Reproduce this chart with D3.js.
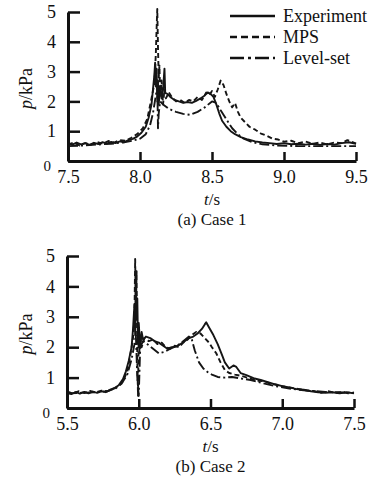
<!DOCTYPE html>
<html>
<head>
<meta charset="utf-8">
<script src="https://cdn.jsdelivr.net/npm/d3@7"></script>
<style>
  body { margin: 0; background: #fff; }
  svg text { font-family: "Liberation Serif", "DejaVu Serif", serif; fill: #111; }
</style>
</head>
<body>
<script>
// series names and ticks
const seriesNames = ["Experiment", "MPS", "Level-set"];
const yTicks = [0, 1, 2, 3, 4, 5];
const case1Ticks = [7.5, 8.0, 8.5, 9.0, 9.5];
const case2Ticks = [5.5, 6.0, 6.5, 7.0, 7.5];

// Case 1 : [t (s), p (kPa)]
const case1Exp = [[7.50,0.60],[7.53,0.55],[7.56,0.62],[7.59,0.56],[7.62,0.60],[7.65,0.54],[7.68,0.61],[7.71,0.57],[7.74,0.63],[7.77,0.58],[7.80,0.64],[7.83,0.60],[7.86,0.66],[7.89,0.63],[7.92,0.70],[7.95,0.74],[7.98,0.82],[8.01,0.95],[8.04,1.15],[8.06,1.45],[8.08,1.90],[8.09,2.40],[8.10,2.90],[8.105,3.30],[8.11,2.50],[8.115,3.10],[8.12,2.00],[8.125,2.70],[8.13,1.90],[8.14,2.50],[8.15,2.10],[8.16,2.40],[8.17,3.10],[8.175,2.30],[8.19,2.25],[8.21,2.15],[8.24,2.05],[8.27,2.00],[8.30,1.95],[8.33,1.98],[8.36,1.95],[8.39,2.02],[8.42,2.10],[8.45,2.20],[8.47,2.30],[8.49,2.25],[8.51,2.15],[8.53,1.90],[8.55,1.60],[8.57,1.35],[8.60,1.15],[8.63,1.00],[8.66,0.90],[8.70,0.80],[8.75,0.72],[8.80,0.66],[8.85,0.62],[8.90,0.60],[8.95,0.57],[9.00,0.60],[9.05,0.56],[9.10,0.58],[9.15,0.55],[9.20,0.58],[9.25,0.54],[9.30,0.57],[9.35,0.55],[9.40,0.60],[9.45,0.63],[9.50,0.58]];
const case1Mps = [[7.50,0.55],[7.54,0.62],[7.58,0.52],[7.62,0.60],[7.66,0.55],[7.70,0.64],[7.74,0.58],[7.78,0.67],[7.82,0.62],[7.86,0.70],[7.90,0.68],[7.94,0.78],[7.98,0.90],[8.02,1.10],[8.05,1.40],[8.08,2.10],[8.10,2.60],[8.11,3.60],[8.115,4.40],[8.12,5.10],[8.125,3.80],[8.13,2.80],[8.135,3.20],[8.14,2.20],[8.15,2.70],[8.16,1.90],[8.17,2.40],[8.18,2.10],[8.20,2.30],[8.22,2.15],[8.25,2.00],[8.28,2.05],[8.31,1.95],[8.34,2.05],[8.37,2.00],[8.40,2.15],[8.43,2.05],[8.46,2.30],[8.48,2.20],[8.50,2.35],[8.52,2.15],[8.54,2.40],[8.56,2.70],[8.58,2.55],[8.60,2.25],[8.62,2.00],[8.64,1.80],[8.66,1.95],[8.68,1.65],[8.70,1.45],[8.73,1.30],[8.76,1.15],[8.80,1.05],[8.84,0.92],[8.88,0.85],[8.92,0.75],[8.96,0.72],[9.00,0.65],[9.05,0.68],[9.10,0.60],[9.15,0.65],[9.20,0.58],[9.25,0.62],[9.30,0.56],[9.35,0.62],[9.40,0.60],[9.44,0.70],[9.47,0.65],[9.50,0.58]];
const case1Ls = [[7.50,0.50],[7.60,0.52],[7.70,0.55],[7.80,0.58],[7.88,0.62],[7.95,0.68],[8.00,0.75],[8.04,0.90],[8.07,1.20],[8.09,1.60],[8.11,2.20],[8.12,2.50],[8.125,1.10],[8.13,1.60],[8.14,2.00],[8.16,1.90],[8.20,1.75],[8.25,1.65],[8.30,1.58],[8.35,1.55],[8.40,1.65],[8.45,1.80],[8.50,2.00],[8.53,1.95],[8.56,1.70],[8.60,1.40],[8.64,1.10],[8.68,0.90],[8.72,0.75],[8.78,0.63],[8.85,0.56],[8.95,0.52],[9.10,0.50],[9.30,0.50],[9.50,0.50]];

// Case 2
const case2Exp = [[5.50,0.50],[5.53,0.46],[5.56,0.52],[5.59,0.47],[5.62,0.53],[5.65,0.48],[5.68,0.54],[5.71,0.50],[5.74,0.55],[5.77,0.52],[5.80,0.60],[5.83,0.65],[5.86,0.75],[5.89,0.95],[5.91,1.20],[5.93,1.55],[5.95,2.00],[5.96,2.60],[5.97,3.40],[5.975,2.40],[5.98,4.20],[5.985,2.90],[5.99,3.60],[5.995,2.10],[6.00,2.80],[6.01,2.00],[6.02,2.50],[6.03,2.25],[6.05,2.35],[6.08,2.30],[6.11,2.20],[6.14,2.15],[6.17,2.05],[6.20,1.95],[6.23,2.00],[6.26,2.02],[6.29,2.10],[6.32,2.20],[6.35,2.30],[6.38,2.35],[6.41,2.45],[6.44,2.60],[6.46,2.75],[6.47,2.82],[6.49,2.65],[6.52,2.40],[6.55,2.10],[6.58,1.75],[6.60,1.50],[6.63,1.30],[6.66,1.40],[6.68,1.35],[6.71,1.15],[6.75,1.08],[6.80,0.98],[6.85,0.92],[6.90,0.85],[6.95,0.78],[7.00,0.72],[7.05,0.68],[7.10,0.62],[7.15,0.60],[7.20,0.55],[7.25,0.52],[7.30,0.50],[7.35,0.52],[7.40,0.48],[7.45,0.52],[7.50,0.48]];
const case2Mps = [[5.50,0.55],[5.54,0.48],[5.58,0.55],[5.62,0.49],[5.66,0.56],[5.70,0.51],[5.74,0.57],[5.78,0.55],[5.82,0.63],[5.86,0.72],[5.89,0.88],[5.92,1.20],[5.94,1.70],[5.96,2.30],[5.97,3.00],[5.975,4.90],[5.98,3.20],[5.985,4.50],[5.99,1.50],[5.995,0.40],[6.00,2.60],[6.005,1.80],[6.01,2.40],[6.02,2.00],[6.04,2.30],[6.07,2.20],[6.10,2.25],[6.13,2.10],[6.16,2.15],[6.19,2.00],[6.22,1.95],[6.25,2.05],[6.28,2.00],[6.31,2.15],[6.34,2.25],[6.37,2.40],[6.40,2.50],[6.43,2.45],[6.46,2.30],[6.49,2.15],[6.51,2.00],[6.54,1.80],[6.57,1.50],[6.60,1.25],[6.63,1.15],[6.67,1.10],[6.72,1.05],[6.77,0.98],[6.82,0.90],[6.87,0.88],[6.92,0.80],[6.97,0.75],[7.02,0.70],[7.07,0.66],[7.12,0.62],[7.17,0.58],[7.22,0.56],[7.27,0.50],[7.32,0.55],[7.37,0.50],[7.42,0.53],[7.46,0.48],[7.50,0.50]];
const case2Ls = [[5.50,0.48],[5.60,0.50],[5.70,0.52],[5.78,0.55],[5.84,0.65],[5.88,0.80],[5.92,1.10],[5.95,1.60],[5.97,2.10],[5.98,2.40],[5.99,1.00],[6.00,0.40],[6.01,2.00],[6.03,2.20],[6.06,2.10],[6.10,1.95],[6.14,1.80],[6.18,1.85],[6.22,1.95],[6.27,2.05],[6.31,2.20],[6.35,2.35],[6.37,2.25],[6.39,1.90],[6.42,1.50],[6.45,1.30],[6.48,1.18],[6.51,1.10],[6.55,1.02],[6.60,1.00],[6.65,1.02],[6.70,0.98],[6.78,0.92],[6.86,0.82],[6.95,0.72],[7.05,0.64],[7.15,0.58],[7.30,0.53],[7.50,0.50]];

const dashes = [null, "5,3", "10,3,2,3"];

const width = 382, height = 486;
const svg = d3.select("body").append("svg")
    .attr("width", width)
    .attr("height", height);

svg.append("rect").attr("width", width).attr("height", height).attr("fill", "#fff");

const drawPanel = (opts) => {
    const x = d3.scaleLinear().domain(opts.xDomain).range([opts.left, opts.right]);
    const y = d3.scaleLinear().domain([0, 5]).range([opts.bottom, opts.top]);

    const line = d3.line().x(d => x(d[0])).y(d => y(d[1]));

    // data lines
    opts.series.forEach((s, i) => {
        svg.append("path")
            .datum(s)
            .attr("fill", "none")
            .attr("stroke", "#151515")
            .attr("stroke-width", 1.9)
            .attr("stroke-linejoin", "round")
            .attr("stroke-dasharray", dashes[i])
            .attr("d", line);
    });

    // y axis, ticks pointing inward
    const gy = svg.append("g")
        .attr("transform", `translate(${opts.left},0)`)
        .call(d3.axisLeft(y).tickValues(yTicks).tickFormat(d3.format("d"))
            .tickSize(-12).tickSizeOuter(0).tickPadding(12));
    // x axis, ticks pointing up
    const gx = svg.append("g")
        .attr("transform", `translate(0,${opts.bottom})`)
        .call(d3.axisBottom(x).tickValues(opts.ticks).tickFormat(d3.format(".1f"))
            .tickSize(-9).tickSizeOuter(0).tickPadding(9));

    [gx, gy].forEach(g => {
        g.attr("font-family", null).attr("font-size", null);
        g.select(".domain").attr("stroke", "#111").attr("stroke-width", 3);
        g.selectAll(".tick line").attr("stroke", "#111").attr("stroke-width", 2.5);
        g.selectAll(".tick text").style("font-size", "18px");
    });
    gy.selectAll(".tick text").filter(d => d === 0)
        .style("font-size", "15px").attr("x", -17).attr("dy", "0.6em");

    // y label
    const yl = svg.append("text")
        .attr("transform", `translate(32,${(opts.top + opts.bottom) / 2 + 2}) rotate(-90)`)
        .attr("text-anchor", "middle")
        .style("font-size", "18px");
    yl.append("tspan").attr("font-style", "italic").text("p");
    yl.append("tspan").text("/kPa");

    // x label
    const xl = svg.append("text")
        .attr("x", (opts.left + opts.right) / 2)
        .attr("y", opts.bottom + 44)
        .attr("text-anchor", "middle")
        .style("font-size", "17px");
    xl.append("tspan").attr("font-style", "italic").text("t");
    xl.append("tspan").text("/s");

    svg.append("text")
        .attr("x", (opts.left + opts.right) / 2)
        .attr("y", opts.bottom + 64)
        .attr("text-anchor", "middle")
        .style("font-size", "17px")
        .text(opts.caption);
};

drawPanel({
    xDomain: [7.5, 9.5], ticks: case1Ticks,
    left: 68, right: 356, top: 12, bottom: 161,
    series: [case1Exp, case1Mps, case1Ls],
    caption: "(a) Case 1"
});

drawPanel({
    xDomain: [5.5, 7.5], ticks: case2Ticks,
    left: 67, right: 354, top: 256, bottom: 408,
    series: [case2Exp, case2Mps, case2Ls],
    caption: "(b) Case 2"
});

// legend
const legend = svg.append("g");
seriesNames.forEach((name, i) => {
    const yy = 16 + i * 21;
    legend.append("line")
        .attr("x1", 230).attr("x2", 275)
        .attr("y1", yy).attr("y2", yy)
        .attr("stroke", "#111")
        .attr("stroke-width", 2.5)
        .attr("stroke-dasharray", i === 1 ? "7,4" : i === 2 ? "14,4,3,4" : null);
    legend.append("text")
        .attr("x", 283).attr("y", yy + 6)
        .style("font-size", "18px")
        .text(name);
});
</script>
</body>
</html>
